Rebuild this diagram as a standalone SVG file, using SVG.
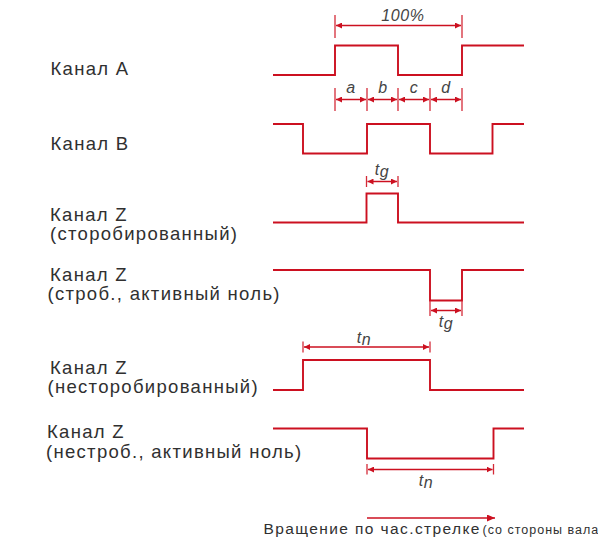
<svg xmlns="http://www.w3.org/2000/svg" width="598" height="541" viewBox="0 0 598 541">
<defs>
<style>
.wave{fill:none;stroke:#cc1020;stroke-width:1.9;stroke-linejoin:miter}
.tick{stroke:#d42a38;stroke-width:1.3}
.dim{stroke:#cc1020;stroke-width:1.5;marker-start:url(#arr);marker-end:url(#arr)}
.lbl{font-family:"Liberation Sans",Arial,sans-serif;font-size:18.5px;fill:#303030;letter-spacing:1.3px}
.it{font-family:"Liberation Sans",Arial,sans-serif;font-size:16px;font-style:italic;fill:#444;text-anchor:middle;letter-spacing:0.6px}
.cap{font-family:"Liberation Sans",Arial,sans-serif;font-size:15.5px;fill:#303030;letter-spacing:1.4px}
.cap2{font-family:"Liberation Sans",Arial,sans-serif;font-size:12.5px;fill:#303030;letter-spacing:1px}
</style>
<marker id="arr" markerUnits="userSpaceOnUse" markerWidth="7" markerHeight="6" refX="6" refY="3" orient="auto-start-reverse" viewBox="0 0 7 6">
<path d="M0,0 L6,3 L0,6 z" fill="#cc1020"/>
</marker>
<marker id="arrBig" markerUnits="userSpaceOnUse" markerWidth="9" markerHeight="7" refX="8" refY="3.5" orient="auto" viewBox="0 0 9 7">
<path d="M0,0 L8,3.5 L0,7 z" fill="#cc1020"/>
</marker>
</defs>
<rect width="598" height="541" fill="#fff"/>

<g id="channel-a">
<text class="lbl" x="50.5" y="75">Канал A</text>
<polyline class="wave" points="273,75 335,75 335,45.5 398,45.5 398,75 462,75 462,45.5 524,45.5"/>
</g>
<g id="channel-b">
<text class="lbl" x="50.5" y="150">Канал B</text>
<polyline class="wave" points="273,124 303,124 303,153.5 367,153.5 367,124 430,124 430,153.5 492.5,153.5 492.5,124 524,124"/>
</g>
<g id="channel-z-strobed">
<text class="lbl" x="50" y="220.5">Канал Z</text>
<text class="lbl" x="50" y="240">(сторобированный)</text>
<polyline class="wave" points="273,222.5 366.5,222.5 366.5,193.5 398,193.5 398,222.5 524,222.5"/>
</g>
<g id="channel-z-strobed-active-zero">
<text class="lbl" x="50" y="280.5">Канал Z</text>
<text class="lbl" x="47.5" y="299.5">(строб., активный ноль)</text>
<polyline class="wave" points="273,270 430,270 430,300.5 462,300.5 462,270 524,270"/>
</g>
<g id="channel-z-unstrobed">
<text class="lbl" x="50" y="373.5">Канал Z</text>
<text class="lbl" x="47.5" y="393">(несторобированный)</text>
<polyline class="wave" points="273,390 303,390 303,360 430,360 430,390 524,390"/>
</g>
<g id="channel-z-unstrobed-active-zero">
<text class="lbl" x="47" y="438.2">Канал Z</text>
<text class="lbl" x="46" y="457.5">(нестроб., активный ноль)</text>
<polyline class="wave" points="273,428.5 367,428.5 367,458.5 493.5,458.5 493.5,428.5 524,428.5"/>
</g>

<g id="connectors">
<line class="tick" x1="335" y1="15" x2="335" y2="38"/>
<line class="tick" x1="462" y1="15" x2="462" y2="38"/>
<line class="dim" x1="336" y1="25.5" x2="461" y2="25.5"/>
<text class="it" x="403" y="21">100%</text>
<line class="tick" x1="335" y1="88" x2="335" y2="111"/>
<line class="tick" x1="367" y1="88" x2="367" y2="111"/>
<line class="tick" x1="398" y1="88" x2="398" y2="111"/>
<line class="tick" x1="430" y1="88" x2="430" y2="111"/>
<line class="tick" x1="462" y1="88" x2="462" y2="111"/>
<line class="dim" x1="336" y1="99.5" x2="366" y2="99.5"/>
<line class="dim" x1="368" y1="99.5" x2="397" y2="99.5"/>
<line class="dim" x1="399" y1="99.5" x2="429" y2="99.5"/>
<line class="dim" x1="431" y1="99.5" x2="461" y2="99.5"/>
<text class="it" x="351" y="93">a</text>
<text class="it" x="383" y="93">b</text>
<text class="it" x="414" y="93">c</text>
<text class="it" x="446" y="93">d</text>
<line class="tick" x1="366.5" y1="176" x2="366.5" y2="187"/>
<line class="tick" x1="398" y1="176" x2="398" y2="187"/>
<line class="dim" x1="367.5" y1="181.5" x2="397" y2="181.5"/>
<text class="it" x="382" y="174.5">t<tspan dy="2">g</tspan></text>
<line class="tick" x1="430" y1="301" x2="430" y2="316"/>
<line class="tick" x1="462" y1="301" x2="462" y2="316"/>
<line class="dim" x1="431" y1="310.5" x2="461" y2="310.5"/>
<text class="it" x="446" y="326.5">t<tspan dy="2">g</tspan></text>
<line class="tick" x1="303" y1="341.5" x2="303" y2="352.5"/>
<line class="tick" x1="430" y1="341.5" x2="430" y2="352.5"/>
<line class="dim" x1="304" y1="347" x2="429" y2="347"/>
<text class="it" x="364" y="343">t<tspan dy="2">n</tspan></text>
<line class="tick" x1="367" y1="464" x2="367" y2="474.5"/>
<line class="tick" x1="493.5" y1="464" x2="493.5" y2="474.5"/>
<line class="dim" x1="368" y1="469.5" x2="492.5" y2="469.5"/>
<text class="it" x="426" y="486">t<tspan dy="2">n</tspan></text>
<line x1="367" y1="518" x2="495" y2="518" stroke="#cc1020" stroke-width="1.5" marker-end="url(#arrBig)"/>
</g>

<g id="caption">
<text class="cap" x="263.5" y="534">Вращение по час.стрелке</text>
<text class="cap2" x="482.5" y="534">(со стороны вала</text>
</g>
</svg>
